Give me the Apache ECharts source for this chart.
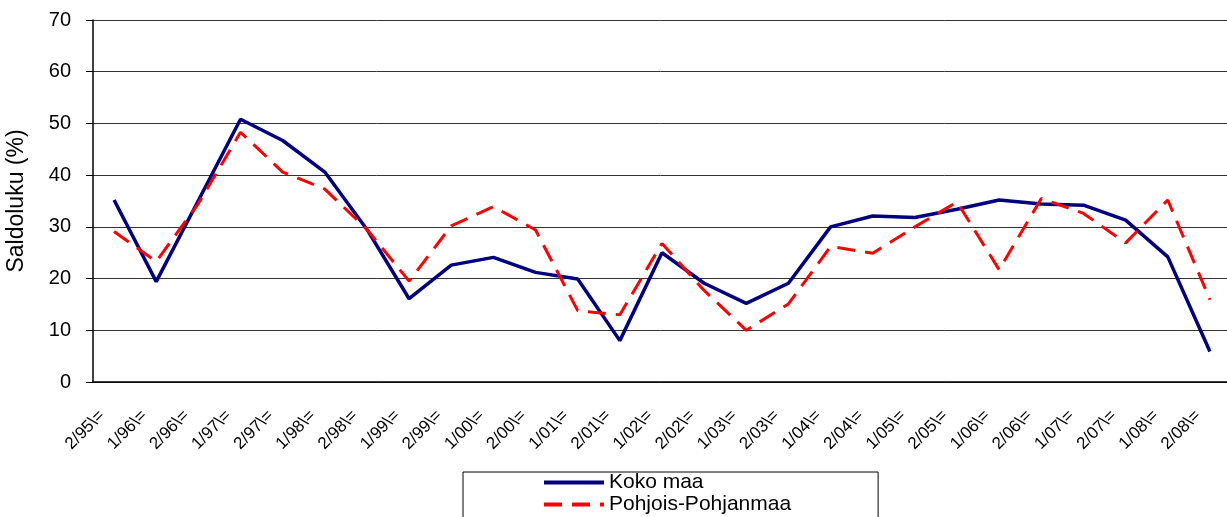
<!DOCTYPE html>
<html>
<head>
<meta charset="utf-8">
<script src="https://cdn.jsdelivr.net/npm/echarts@6/dist/echarts.min.js"></script>
<style>
  html, body { margin: 0; padding: 0; background: #fff; }
  #chart { width: 1227px; height: 517px; }
</style>
</head>
<body>
<div id="chart"></div>
<script>
// kaudet
const categories = ['2/95\\=', '1/96\\=', '2/96\\=', '1/97\\=', '2/97\\=', '1/98\\=', '2/98\\=', '1/99\\=', '2/99\\=',
  '1/00\\=', '2/00\\=', '1/01\\=', '2/01\\=', '1/02\\=', '2/02\\=', '1/03\\=', '2/03\\=', '1/04\\=', '2/04\\=',
  '1/05\\=', '2/05\\=', '1/06\\=', '2/06\\=', '1/07\\=', '2/07\\=', '1/08\\=', '2/08\\=']

// saldoluvut (%)
const kokoMaa = [35.2, 19.4, 35.1, 50.8, 46.7, 40.6, 29.5, 16.1, 22.6, 24.1, 21.2, 19.9, 8.0, 25.0,
  19.1, 15.2, 19.1, 30.0, 32.1, 31.8, 33.4, 35.2, 34.4, 34.2, 31.3, 24.2, 5.9]
const pohjoisPohjanmaa = [29.1, 23.3, 34.5, 48.3, 40.6, 37.3, 29.5, 19.5, 30.2, 33.9, 29.4, 13.8, 13.0, 26.8,
  17.7, 10.0, 15.1, 26.2, 24.9, 30.0, 34.8, 21.7, 35.5, 32.6, 26.9, 35.2, 15.9]

const yTicks = [0, 10, 20, 30, 40, 50, 60, 70]

const font = 'Liberation Sans, Arial, sans-serif'

const chart = echarts.init(document.getElementById('chart'))

chart.setOption({
  animation: false,
  textStyle: { fontFamily: font },
  grid: {
    left: 93,
    top: 20,
    width: 1138,
    height: 362,
    outerBoundsMode: 'none'
  },
  legend: {
    orient: 'vertical',
    left: 463,
    top: 472,
    height: 80,
    padding: [0, 87, 10, 79],
    itemWidth: 60,
    itemHeight: 20,
    itemGap: 1,
    borderColor: '#000',
    borderWidth: 1,
    // only the line, no marker
    itemStyle: { color: 'transparent', borderWidth: 0 },
    lineStyle: { width: 4 },
    textStyle: { fontSize: 21, color: '#000', fontFamily: font },
    data: ['Koko maa', 'Pohjois-Pohjanmaa']
  },
  xAxis: {
    type: 'category',
    data: categories,
    boundaryGap: true,
    axisLine: { lineStyle: { color: '#000', width: 1.5 } },
    axisTick: { show: false },
    axisLabel: {
      interval: 0,
      rotate: 45,
      margin: 19,
      padding: [0, 17, 0, 0],
      fontSize: 17,
      color: '#000',
      fontFamily: font
    }
  },
  yAxis: {
    type: 'value',
    min: yTicks[0],
    max: yTicks[yTicks.length - 1],
    interval: 10,
    name: 'Saldoluku (%)',
    nameLocation: 'middle',
    nameGap: 65,
    nameTextStyle: { fontSize: 23, color: '#000', fontFamily: font },
    axisLine: { show: true, lineStyle: { color: '#000', width: 1.5 } },
    axisTick: { show: true, length: 7, lineStyle: { color: '#000' } },
    axisLabel: { margin: 22, fontSize: 20, color: '#000', fontFamily: font },
    splitLine: { lineStyle: { color: '#333', width: 1 } }
  },
  series: [
    {
      name: 'Koko maa',
      type: 'line',
      data: kokoMaa,
      symbol: 'none',
      lineStyle: { color: '#000080', width: 3.5 },
      itemStyle: { color: '#000080' },
      z: 3
    },
    {
      name: 'Pohjois-Pohjanmaa',
      type: 'line',
      data: pohjoisPohjanmaa,
      symbol: 'none',
      lineStyle: { color: '#ff0000', width: 3, type: [18, 10] },
      itemStyle: { color: '#ff0000' },
      z: 4
    }
  ]
})
</script>
</body>
</html>
